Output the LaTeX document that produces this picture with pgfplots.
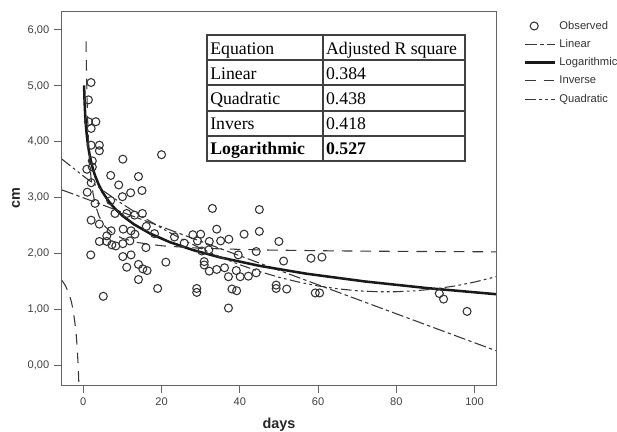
\documentclass[border=0pt]{standalone}
\usepackage{fontspec}
\setmainfont{Liberation Sans}
\newfontfamily\tnr{Liberation Serif}
\usepackage{pgfplots}
\pgfplotsset{compat=1.18}
\definecolor{fitgray}{RGB}{55,55,55}
\definecolor{axgray}{RGB}{100,100,100}
\pgfplotsset{
    linelegend/.style={legend image code/.code={\draw[##1] (0pt,0pt) -- (22.5pt,0pt);}},
    dotlegend/.style={legend image code/.code={\path[draw=none, fill=none] (0pt,-1pt) rectangle (22.5pt,1pt);
        \draw[black!80, line width=0.8pt, fill=none] (7pt,0pt) circle (3pt);}},
}

\begin{document}
\begin{tikzpicture}
\begin{axis}[
    scale only axis,
    width=325.5pt, height=279.75pt,
    xmin=-5.45, xmax=105.5, ymin=-0.345, ymax=6.32,
    xtick={0,20,...,100}, ytick={0,1,...,6},
    tick pos=left, tick align=outside, major tick length=6pt,
    axis line style={axgray, line width=0.75pt},
    tick style={axgray, line width=0.75pt},
    tick label style={font=\fontsize{8.3}{10}\selectfont, text=black!75},
    xticklabel style={/pgf/number format/assume math mode=true},
    yticklabel style={/pgf/number format/.cd, fixed, fixed zerofill, precision=2, use comma, assume math mode=true},
    xlabel={\textbf{days}}, ylabel={\textbf{cm}},
    label style={font=\fontsize{10.8}{12}\selectfont, text=black!85},
    xlabel style={at={(axis description cs:0.5,-0.106)}, anchor=center},
    ylabel style={at={(axis description cs:-0.106,0.5)}, anchor=center},
    legend style={at={(axis description cs:1,1)}, anchor=north west,
        xshift=20.5pt, yshift=-4.5pt, draw=none, fill=none, inner sep=0pt,
        font=\fontsize{8.4}{10}\selectfont, text=black!80,
        row sep=2.2pt, column sep=0.5pt},
    legend cell align=left,
]

% observed
\addplot[only marks, mark=o, mark size=3pt,
    mark options={black!80, line width=0.8pt}, dotlegend]
table {
x y
1.97 5.06
1.3 4.75
1.3 4.36
3.2 4.36
2.0 4.24
2.0 3.94
4.1 3.94
4.1 3.84
10.1 3.69
20.0 3.77
2.3 3.66
2.3 3.55
0.9 3.51
7.0 3.40
14.1 3.38
9.05 3.23
2.0 3.27
1.0 3.10
10.0 3.02
12.1 3.09
15.0 3.13
7.0 2.95
3.0 2.90
33.0 2.81
45.0 2.79
8.1 2.72
11.1 2.72
13.1 2.69
15.1 2.72
2.0 2.60
4.1 2.53
10.2 2.44
12.2 2.41
7.1 2.41
16.1 2.49
18.2 2.36
23.3 2.30
6.0 2.32
13.2 2.35
4.1 2.22
6.0 2.22
7.3 2.16
8.3 2.14
10.1 2.18
11.9 2.23
16.0 2.11
1.9 1.98
10.1 1.95
12.2 1.98
21.1 1.85
14.1 1.81
11.1 1.76
15.2 1.73
16.3 1.70
14.1 1.54
19.0 1.38
5.1 1.24
25.8 2.19
28.0 2.34
30.0 2.35
34.1 2.44
32.2 2.22
29.2 2.23
35.1 2.23
37.2 2.26
41.1 2.35
45.0 2.40
50.0 2.22
32.1 2.07
30.3 2.05
39.6 1.98
44.2 2.04
30.9 1.86
30.9 1.80
32.2 1.69
34.1 1.72
36.1 1.75
39.1 1.70
37.1 1.59
40.1 1.59
42.2 1.60
44.2 1.66
29.0 1.38
29.0 1.31
38.0 1.37
39.2 1.34
37.1 1.03
49.3 1.44
49.3 1.38
51.2 1.87
58.2 1.92
61.0 1.94
52.0 1.37
59.3 1.30
60.4 1.30
91.0 1.29
92.1 1.19
98.1 0.97
};
\addlegendentry{Observed}

% linear fit
\addplot[fitgray, line width=0.8pt, dash pattern=on 9pt off 2.5pt on 2.5pt off 2.5pt, linelegend]
coordinates {(-5.45,3.141) (105.5,0.268)};
\addlegendentry{Linear}

% logarithmic fit
\addplot[black!90, line width=1.9pt, linelegend] coordinates {
(0.2,5.008) (0.25,4.875) (0.3,4.766) (0.4,4.595) (0.5,4.462) (0.65,4.306)
(0.8,4.183) (1,4.050) (1.25,3.917) (1.5,3.809) (2,3.638) (2.5,3.505)
(3,3.396) (4,3.225) (5,3.092) (6.5,2.936) (8,2.813) (10,2.680)
(13,2.524) (17,2.364) (22,2.211) (28,2.067) (35,1.935) (45,1.785)
(57,1.644) (72,1.505) (88,1.386) (105.5,1.278)};
\addlegendentry{Logarithmic}

% inverse fit
\addplot[fitgray, line width=0.8pt, dash pattern=on 8pt off 6pt, linelegend] coordinates {
(0.70,5.796) (0.8,5.323) (0.9,4.954) (1.0,4.660) (1.15,4.314) (1.3,4.048)
(1.5,3.777) (1.7,3.569) (2.0,3.335) (2.5,3.070) (3,2.893) (4,2.673)
(5.5,2.492) (7.5,2.363) (10,2.275) (14,2.199) (20,2.143) (30,2.098)
(45,2.069) (65,2.051) (85,2.041) (105.5,2.035)};
\addlegendentry{Inverse}
\addplot[fitgray, line width=0.8pt, dash pattern=on 8pt off 6pt, forget plot] coordinates {
(-5.45,1.524) (-4.5,1.421) (-3.5,1.253) (-3,1.127) (-2.5,0.950) (-2,0.685)
(-1.75,0.496) (-1.5,0.243) (-1.3,-0.028) (-1.15,-0.294) (-1.1,-0.399)};

% quadratic fit
\addplot[fitgray, line width=0.8pt, dash pattern=on 8pt off 2.5pt on 2pt off 2.5pt on 2pt off 2.5pt, linelegend]
coordinates {
(-5.45,3.690) (0,3.389) (5,3.130) (10,2.889) (15,2.666) (20,2.459) (25,2.269)
(30,2.097) (35,1.942) (40,1.804) (45,1.684) (50,1.580) (55,1.495) (60,1.425)
(65,1.374) (70,1.339) (75,1.322) (80,1.322) (85,1.339) (90,1.373) (95,1.425)
(100,1.494) (105.5,1.590)};
\addlegendentry{Quadratic}

% summary table
\fill[white] (axis cs:31.64,3.659) rectangle (axis cs:97.6,5.910);
\draw[black!75, line width=1.5pt] (axis cs:31.64,3.659) rectangle (axis cs:97.6,5.910);
\draw[black!75, line width=1.5pt] (axis cs:61.3,3.659) -- (axis cs:61.3,5.910);
\draw[black!75, line width=1.5pt] (axis cs:31.64,5.460) -- (axis cs:97.6,5.460);
\draw[black!75, line width=1.5pt] (axis cs:31.64,5.010) -- (axis cs:97.6,5.010);
\draw[black!75, line width=1.5pt] (axis cs:31.64,4.559) -- (axis cs:97.6,4.559);
\draw[black!75, line width=1.5pt] (axis cs:31.64,4.109) -- (axis cs:97.6,4.109);
\node[anchor=base west, inner sep=0pt, font=\tnr\fontsize{13.3}{15}\selectfont] at (axis cs:32.4,5.566) {Equation};
\node[anchor=base west, inner sep=0pt, font=\tnr\fontsize{13.3}{15}\selectfont] at (axis cs:62.0,5.566) {Adjusted R square};
\node[anchor=base west, inner sep=0pt, font=\tnr\fontsize{13.3}{15}\selectfont] at (axis cs:32.4,5.116) {Linear};
\node[anchor=base west, inner sep=0pt, font=\tnr\fontsize{13.3}{15}\selectfont] at (axis cs:62.0,5.116) {0.384};
\node[anchor=base west, inner sep=0pt, font=\tnr\fontsize{13.3}{15}\selectfont] at (axis cs:32.4,4.665) {Quadratic};
\node[anchor=base west, inner sep=0pt, font=\tnr\fontsize{13.3}{15}\selectfont] at (axis cs:62.0,4.665) {0.438};
\node[anchor=base west, inner sep=0pt, font=\tnr\fontsize{13.3}{15}\selectfont] at (axis cs:32.4,4.215) {Invers};
\node[anchor=base west, inner sep=0pt, font=\tnr\fontsize{13.3}{15}\selectfont] at (axis cs:62.0,4.215) {0.418};
\node[anchor=base west, inner sep=0pt, font=\tnr\bfseries\fontsize{13.3}{15}\selectfont] at (axis cs:32.4,3.765) {Logarithmic};
\node[anchor=base west, inner sep=0pt, font=\tnr\bfseries\fontsize{13.3}{15}\selectfont] at (axis cs:62.0,3.765) {0.527};

\coordinate (sw) at (rel axis cs:0,0);
\coordinate (ne) at (rel axis cs:1,1);
\end{axis}
\pgfresetboundingbox
\path ([xshift=-46.5pt,yshift=-34.5pt]sw) rectangle ([xshift=90.75pt,yshift=9pt]ne);
\end{tikzpicture}
\end{document}
